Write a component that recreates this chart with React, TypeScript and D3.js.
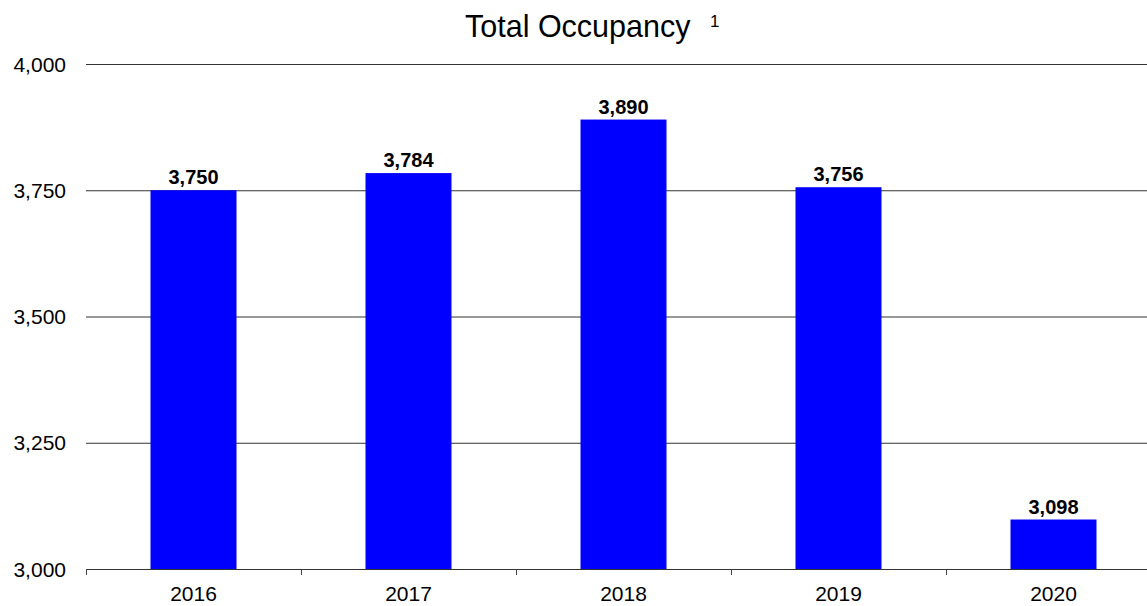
import React, { useEffect, useRef } from "react";
import * as d3 from "d3";

const years = ["2016", "2017", "2018", "2019", "2020"];
const occupancy = [3750, 3784, 3890, 3756, 3098];
const yTicks = [3000, 3250, 3500, 3750, 4000];

const W = 1147;
const H = 606;
const FONT = "'Liberation Sans', Arial, sans-serif";

const App = () => {
  const ref = useRef<SVGSVGElement | null>(null);

  useEffect(() => {
    document.body.style.margin = "0";
    if (!ref.current) return;
    const svg = d3.select(ref.current);
    svg.selectAll("*").remove();

    const left = 86;
    const top = 64;
    const bottom = 569;

    // category step is wider than the visible area, last band gets clipped
    const x = d3.scaleBand().domain(years).range([left, left + 5 * 215]).padding(0);
    const y = d3.scaleLinear().domain([3000, 4000]).range([bottom, top]);
    const barW = 86;

    // title
    svg
      .append("text")
      .attr("x", 465)
      .attr("y", 37)
      .style("font-family", FONT)
      .style("font-size", "30.5px")
      .attr("fill", "#000")
      .text("Total Occupancy");
    svg
      .append("text")
      .attr("x", 710)
      .attr("y", 27)
      .style("font-family", FONT)
      .style("font-size", "17px")
      .attr("fill", "#000")
      .text("1");

    // grid lines
    svg
      .append("g")
      .selectAll("line")
      .data(yTicks.filter((t) => t !== 3000))
      .enter()
      .append("line")
      .attr("x1", left)
      .attr("x2", W)
      .attr("y1", (d) => y(d) + 0.5)
      .attr("y2", (d) => y(d) + 0.5)
      .attr("stroke", "#333")
      .attr("stroke-width", 1);

    // y labels
    svg
      .append("g")
      .selectAll("text")
      .data(yTicks)
      .enter()
      .append("text")
      .attr("x", 66)
      .attr("y", (d) => y(d) + 7.5)
      .attr("text-anchor", "end")
      .style("font-family", FONT)
      .style("font-size", "21px")
      .attr("fill", "#000")
      .text((d) => d3.format(",")(d));

    // bars
    svg
      .append("g")
      .selectAll("rect")
      .data(occupancy)
      .enter()
      .append("rect")
      .attr("x", (_, i) => (x(years[i]) || 0) + x.bandwidth() / 2 - barW / 2)
      .attr("y", (d) => y(d))
      .attr("width", barW)
      .attr("height", (d) => bottom - y(d))
      .attr("fill", "#0000FF");

    // value labels
    svg
      .append("g")
      .selectAll("text")
      .data(occupancy)
      .enter()
      .append("text")
      .attr("x", (_, i) => (x(years[i]) || 0) + x.bandwidth() / 2)
      .attr("y", (d) => y(d) - 6)
      .attr("text-anchor", "middle")
      .style("font-family", FONT)
      .style("font-size", "20px")
      .style("font-weight", "bold")
      .attr("fill", "#000")
      .text((d) => d3.format(",")(d));

    // x axis line and ticks between categories
    svg
      .append("line")
      .attr("x1", left)
      .attr("x2", W)
      .attr("y1", bottom + 0.5)
      .attr("y2", bottom + 0.5)
      .attr("stroke", "#333")
      .attr("stroke-width", 1.2);

    svg
      .append("g")
      .selectAll("line")
      .data(years)
      .enter()
      .append("line")
      .attr("x1", (d) => (x(d) || 0) + 0.5)
      .attr("x2", (d) => (x(d) || 0) + 0.5)
      .attr("y1", bottom)
      .attr("y2", bottom + 6)
      .attr("stroke", "#444")
      .attr("stroke-width", 1);

    svg
      .append("g")
      .selectAll("text")
      .data(years)
      .enter()
      .append("text")
      .attr("x", (d) => (x(d) || 0) + x.bandwidth() / 2)
      .attr("y", 601)
      .attr("text-anchor", "middle")
      .style("font-family", FONT)
      .style("font-size", "21px")
      .attr("fill", "#000")
      .text((d) => d);
  }, []);

  return <svg ref={ref} width={W} height={H} style={{ display: "block", background: "#fff" }} />;
};

export default App;
